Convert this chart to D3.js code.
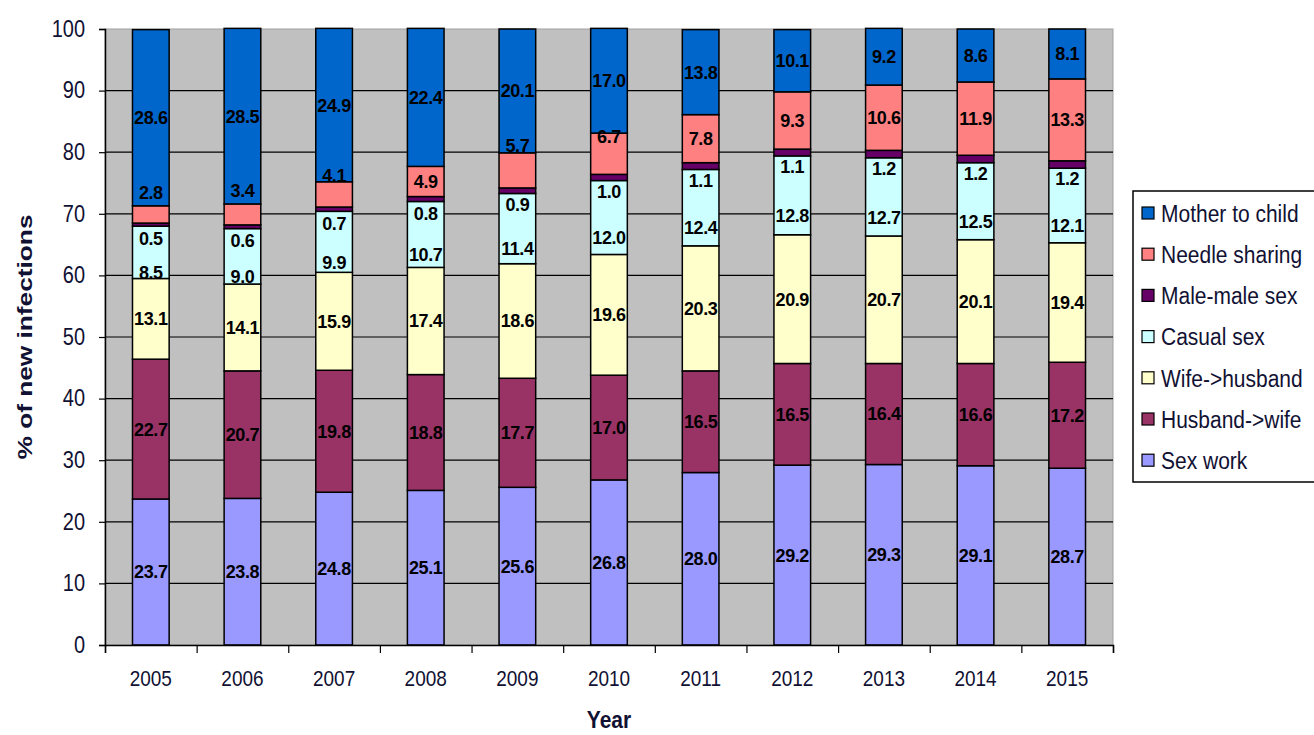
<!DOCTYPE html>
<html>
<head>
<meta charset="utf-8">
<script src="https://cdn.jsdelivr.net/npm/d3@7"></script>
<style>
    body { margin: 0; background: #fff; }
    svg { font-family: "Liberation Sans", Arial, sans-serif; }
</style>
</head>
<body>
<script>
let years = ["2005", "2006", "2007", "2008", "2009", "2010", "2011", "2012", "2013", "2014", "2015"];

// series, bottom of the stack first
let seriesNames = ["Sex work", "Husband->wife", "Wife->husband", "Casual sex", "Male-male sex", "Needle sharing", "Mother to child"];

let sexWork       = [23.7, 23.8, 24.8, 25.1, 25.6, 26.8, 28.0, 29.2, 29.3, 29.1, 28.7];
let husbandToWife = [22.7, 20.7, 19.8, 18.8, 17.7, 17.0, 16.5, 16.5, 16.4, 16.6, 17.2];
let wifeToHusband = [13.1, 14.1, 15.9, 17.4, 18.6, 19.6, 20.3, 20.9, 20.7, 20.1, 19.4];
let casualSex     = [8.5, 9.0, 9.9, 10.7, 11.4, 12.0, 12.4, 12.8, 12.7, 12.5, 12.1];
let maleMaleSex   = [0.5, 0.6, 0.7, 0.8, 0.9, 1.0, 1.1, 1.1, 1.2, 1.2, 1.2];
let needleSharing = [2.8, 3.4, 4.1, 4.9, 5.7, 6.7, 7.8, 9.3, 10.6, 11.9, 13.3];
let motherToChild = [28.6, 28.5, 24.9, 22.4, 20.1, 17.0, 13.8, 10.1, 9.2, 8.6, 8.1];

let yTicks = [0, 10, 20, 30, 40, 50, 60, 70, 80, 90, 100];

let seriesValues = [sexWork, husbandToWife, wifeToHusband, casualSex, maleMaleSex, needleSharing, motherToChild];
let colors = ["#9999FF", "#993366", "#FFFFCC", "#CCFFFF", "#660066", "#FF8080", "#0066CC"];

// label nudges (in % units) the original chart had for the thin segments
let labelShift = [0, 0, 0, -3.3, -2.3, 0, 0];
let needleLabelShift = [3.6, 3.9, 3.0, 0, 4.0, 2.8, 0, 0, 0, 0, 0];

let svgWidth = 1314,
    svgHeight = 735,
    plot = { left: 105, right: 1113, top: 29, bottom: 645 },
    stretch = 1.2,   // text in the original is drawn taller than wide
    inkColor = "#111133";

let rows = years.map((y, i) => {
    let row = { year: y };
    seriesNames.forEach((s, k) => { row[s] = seriesValues[k][i]; });
    return row;
});

let stacked = d3.stack().keys(seriesNames)(rows);

let svg = d3.select("body").append("svg")
    .attr("width", svgWidth)
    .attr("height", svgHeight);

let xScale = d3.scaleBand().domain(years).range([plot.left, plot.right]).paddingInner(0.6).paddingOuter(0.3);
let xBoundary = d3.scaleLinear().domain([0, years.length]).range([plot.left, plot.right]);
let yScale = d3.scaleLinear().domain([0, 100]).range([plot.bottom, plot.top]);

function tallText(parent, x, y, str, size, weight, sy) {
    return parent.append("text")
        .attr("transform", "translate(" + x + "," + y + ") scale(1," + (sy || stretch) + ")")
        .attr("dy", "0.36em")
        .attr("font-size", size)
        .attr("font-weight", weight || "normal")
        .attr("fill", inkColor)
        .text(str);
}

// plot background
svg.append("rect")
    .attr("x", plot.left)
    .attr("y", plot.top)
    .attr("width", plot.right - plot.left)
    .attr("height", plot.bottom - plot.top)
    .attr("fill", "#C0C0C0")
    .attr("stroke", "#A0A0A0")
    .attr("stroke-width", 1);

// grid lines
svg.append("g")
    .selectAll("line")
    .data(yTicks.filter(t => t > 0 && t < 100))
    .join("line")
    .attr("x1", plot.left)
    .attr("x2", plot.right)
    .attr("y1", d => yScale(d))
    .attr("y2", d => yScale(d))
    .attr("stroke", "#000")
    .attr("stroke-width", 1.2);

// bars
let layers = svg.append("g")
    .selectAll("g")
    .data(stacked)
    .join("g")
    .attr("fill", (d, i) => colors[i]);

layers.selectAll("rect")
    .data(d => d)
    .join("rect")
    .attr("x", d => xScale(d.data.year))
    .attr("width", xScale.bandwidth())
    .attr("y", d => yScale(d[1]))
    .attr("height", d => yScale(d[0]) - yScale(d[1]))
    .attr("stroke", "#000")
    .attr("stroke-width", 1.5);

// data labels
stacked.forEach((layer, k) => {
    svg.append("g")
        .selectAll("text")
        .data(layer)
        .join("text")
        .attr("x", d => xScale(d.data.year) + xScale.bandwidth() / 2)
        .attr("y", (d, i) => {
            let shift = labelShift[k] + (k === 5 ? needleLabelShift[i] : 0);
            return yScale((d[0] + d[1]) / 2 + shift);
        })
        .attr("dy", "0.36em")
        .attr("text-anchor", "middle")
        .attr("font-size", 18)
        .attr("font-weight", "bold")
        .attr("letter-spacing", -0.4)
        .attr("fill", "#000")
        .text((d, i) => seriesValues[k][i].toFixed(1));
});

// y axis
let yAxis = d3.axisLeft(yScale).tickValues(yTicks).tickSize(6).tickPadding(14);
let gy = svg.append("g")
    .attr("transform", "translate(" + plot.left + ",0)")
    .call(yAxis);
gy.select(".domain").attr("stroke", "#000").attr("stroke-width", 1.5);
gy.selectAll(".tick line").attr("stroke", "#000").attr("stroke-width", 1.2);
gy.selectAll(".tick text")
    .attr("dy", "0.3em")
    .attr("transform", "scale(1," + stretch + ")")
    .attr("font-size", 20)
    .attr("font-family", "Liberation Sans, Arial, sans-serif")
    .attr("fill", inkColor);

// x axis: ticks sit between categories
let xAxis = d3.axisBottom(xBoundary).tickValues(d3.range(0, years.length + 1)).tickSize(8).tickFormat("");
let gx = svg.append("g")
    .attr("transform", "translate(0," + plot.bottom + ")")
    .call(xAxis);
gx.select(".domain").attr("stroke", "#000").attr("stroke-width", 1.5);
gx.selectAll(".tick line").attr("stroke", "#000").attr("stroke-width", 1.2);

let xLabels = svg.append("g").attr("text-anchor", "middle");
years.forEach(y => {
    tallText(xLabels, xScale(y) + xScale.bandwidth() / 2, plot.bottom + 33, y, 19);
});

// axis titles
tallText(svg, (plot.left + plot.right) / 2, 719, "Year", 21, "bold", 1.15)
    .attr("text-anchor", "middle");

svg.append("text")
    .attr("transform", "translate(24," + ((plot.top + plot.bottom) / 2) + ") scale(1,1.25) rotate(-90)")
    .attr("dy", "0.36em")
    .attr("text-anchor", "middle")
    .attr("font-size", 21)
    .attr("font-weight", "bold")
    .attr("fill", inkColor)
    .text("% of new infections");

// legend, top entry is the top of the stack
let legend = svg.append("g").attr("transform", "translate(1133,191)");
legend.append("rect")
    .attr("width", 190)
    .attr("height", 291)
    .attr("fill", "#fff")
    .attr("stroke", "#000")
    .attr("stroke-width", 1.5);

let legendOrder = d3.range(seriesNames.length).reverse();
legendOrder.forEach((k, i) => {
    let cy = 22 + i * 41.2;
    legend.append("rect")
        .attr("x", 9)
        .attr("y", cy - 6)
        .attr("width", 12)
        .attr("height", 12)
        .attr("fill", colors[k])
        .attr("stroke", "#000")
        .attr("stroke-width", 1.2);
    tallText(legend, 28, cy, seriesNames[k], 21, "normal", 1.15);
});
</script>
</body>
</html>
